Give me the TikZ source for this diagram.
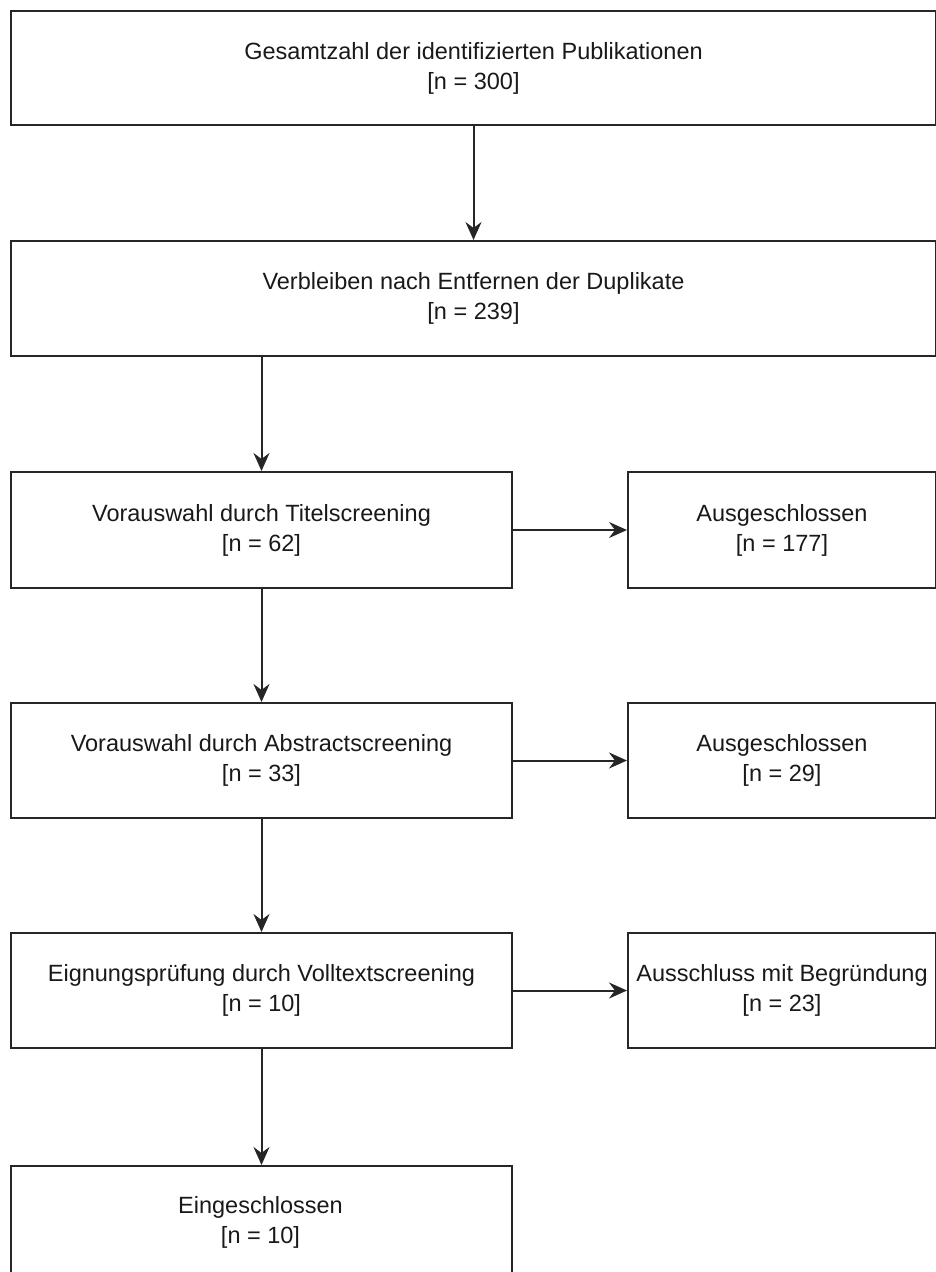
\documentclass[tikz,border=0pt]{standalone}
\usepackage{fontspec}
\setmainfont{Liberation Sans}
\usetikzlibrary{arrows.meta}
\begin{document}
\begin{tikzpicture}[x=1pt,y=-1pt,
  box/.style={draw=black!85, line width=2pt, rectangle, inner sep=0pt, align=center,
    font=\fontsize{23.5}{30}\selectfont, text=black!90, anchor=north west},
  arr/.style={draw=black!85, line width=2pt, -{Stealth[length=18pt,width=16pt,inset=6pt]}}]
\useasboundingbox (0,0) rectangle (936,1272);
\clip (0,0) rectangle (936,1272);
\node[box, minimum width=925pt, minimum height=114pt] (b1) at (10,10) {Gesamtzahl der identifizierten Publikationen\\{}[n = 300]};
\node[box, minimum width=925pt, minimum height=115pt] (b2) at (10,240) {Verbleiben nach Entfernen der Duplikate\\{}[n = 239]};
\node[box, minimum width=501pt, minimum height=116pt] (b3) at (10,471) {Vorauswahl durch Titelscreening\\{}[n = 62]};
\node[box, minimum width=308pt, minimum height=116pt] (r3) at (627,471) {Ausgeschlossen\\{}[n = 177]};
\node[box, minimum width=501pt, minimum height=115pt] (b4) at (10,702) {Vorauswahl durch Abstractscreening\\{}[n = 33]};
\node[box, minimum width=308pt, minimum height=115pt] (r4) at (627,702) {Ausgeschlossen\\{}[n = 29]};
\node[box, minimum width=501pt, minimum height=115pt] (b5) at (10,932) {Eignungsprüfung durch Volltextscreening\\{}[n = 10]};
\node[box, minimum width=308pt, minimum height=115pt] (r5) at (627,932) {Ausschluss mit Begründung\\{}[n = 23]};
\node[box, minimum width=501pt, minimum height=210pt, anchor=north west] (b6) at (10,1165) {};
\node[font=\fontsize{23.5}{30}\selectfont, text=black!90, align=center] (t6) at (260.5,1222) {Eingeschlossen\\{}[n = 10]};
\draw[arr] (b1.south) -- (b2.north);
\draw[arr] (b2.south -| b3.north) -- (b3.north);
\draw[arr] (b3.south) -- (b4.north);
\draw[arr] (b4.south) -- (b5.north);
\draw[arr] (b5.south) -- (b6.north);
\draw[arr] (b3.east) -- (r3.west);
\draw[arr] (b4.east) -- (r4.west);
\draw[arr] (b5.east) -- (r5.west);
\end{tikzpicture}
\end{document}
